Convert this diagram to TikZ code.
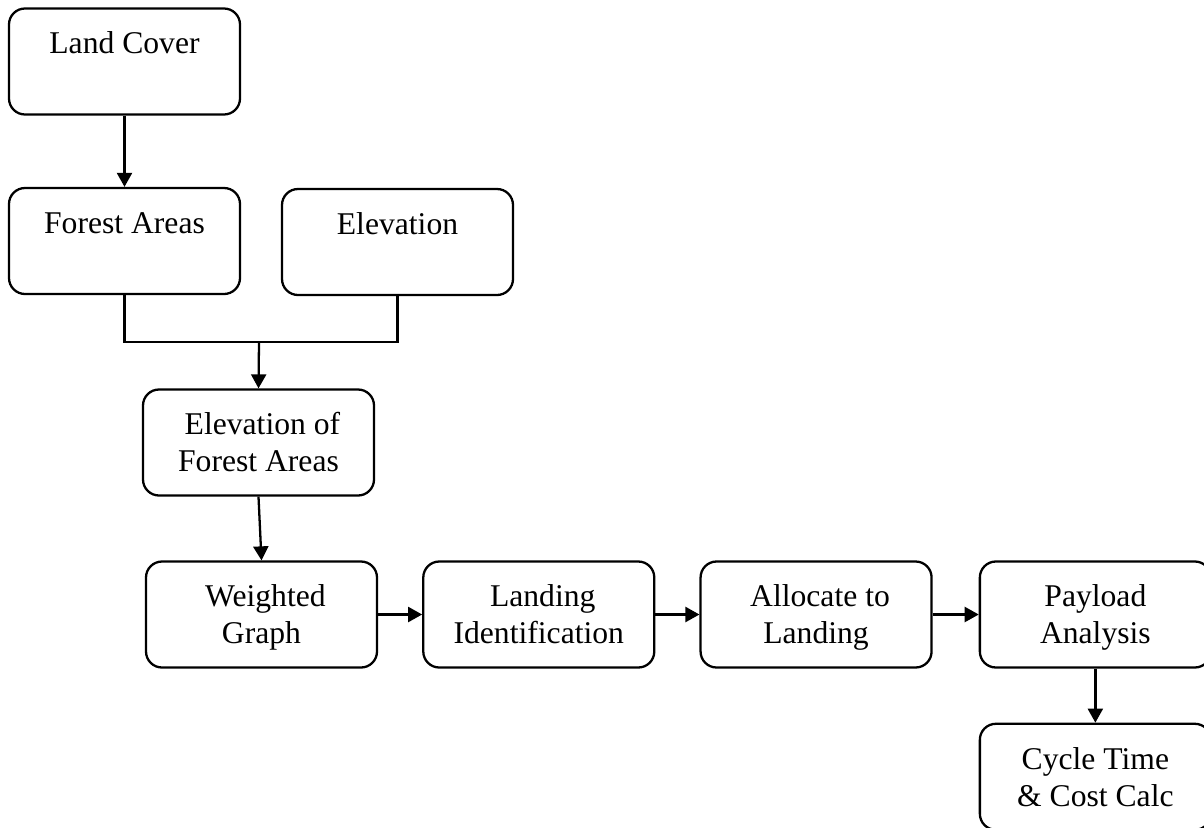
\documentclass[tikz,border=0pt]{standalone}
\usepackage{fontspec}
\setmainfont{Liberation Serif}
\usepackage{tikz}
\usetikzlibrary{positioning,arrows.meta}

\newcommand{\lsp}{\hspace*{.25em}}
\newcommand{\topstrut}{\rule[-6.3pt]{0pt}{25pt}}

\begin{document}
\begin{tikzpicture}[
box/.style={draw,rectangle,rounded corners=.32cm,line width=1.3pt,
  minimum width=4.62cm,minimum height=2.12cm,align=center,
  font=\fontsize{18}{21}\selectfont},
arr/.style={line width=1.3pt,-{Triangle[length=.28cm,width=.3cm]}}]
\useasboundingbox (0,0) rectangle (24.08,-16.54);

\node (land) [box] at (2.49,-1.23) {\topstrut Land Cover\\\strut};
\node (forest) [box] at (2.49,-4.82) {\topstrut Forest Areas\\\strut};
\node (elev) [box] at (7.95,-4.84) {\topstrut Elevation\\\strut};
\node (elevforest) [box] at (5.17,-8.85) {\topstrut\lsp Elevation of\\\strut Forest Areas};
\node (weighted) [box] at (5.23,-12.29) {\topstrut\lsp Weighted\\\strut Graph};
\node (landing) [box,right=.88cm of weighted] {\topstrut\lsp Landing\\\strut Identification};
\node (allocate) [box,right=.88cm of landing] {\topstrut\lsp Allocate to\\\strut Landing};
\node (payload) [box,right=.92cm of allocate] {\topstrut Payload\\\strut Analysis};
\node (cycle) [box,below=1.08cm of payload] {\topstrut Cycle Time\\\strut\& Cost Calc};

\coordinate (merge) at (5.18,-6.84);
\draw[arr] (land) -- (forest);
\draw[line width=1.3pt] (forest.south) |- (merge) -| (elev.south);
\draw[arr] (merge) -- (elevforest.north);
\draw[arr] (elevforest.south) -- (weighted.north);
\draw[arr] (weighted) -- (landing);
\draw[arr] (landing) -- (allocate);
\draw[arr] (allocate) -- (payload);
\draw[arr] (payload) -- (cycle);
\end{tikzpicture}
\end{document}
